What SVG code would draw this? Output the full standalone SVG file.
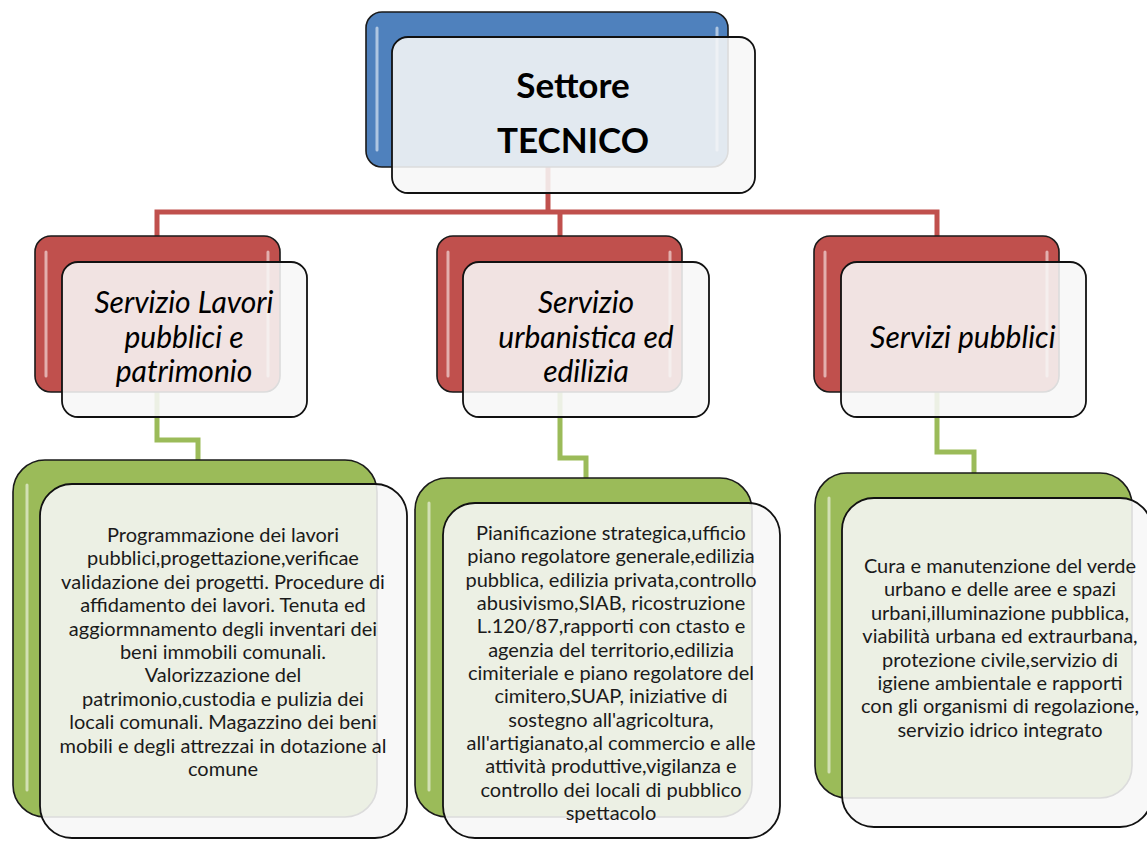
<svg xmlns="http://www.w3.org/2000/svg" width="1147" height="841" viewBox="0 0 1147 841">
<style>
.back{stroke:#1a1a1a;stroke-width:1.6}
.blue{fill:#4F81BD}
.red{fill:#C0504D}
.green{fill:#9BBB59}
.front{fill:#F7F7F7;fill-opacity:0.88;stroke:#111;stroke-width:1.8}
.hl{stroke:#ffffff;stroke-opacity:0.55;stroke-width:3;stroke-linecap:round;fill:none}
.cr{stroke:#C0504D;stroke-width:5;fill:none}
.cg{stroke:#9BBB59;stroke-width:5;fill:none}
.title{font-family:Lato,"Liberation Sans",sans-serif;font-weight:bold;font-size:35px;fill:#000;text-anchor:middle}
.svc{font-family:Lato,"Liberation Sans",sans-serif;font-style:italic;font-size:30px;fill:#000;text-anchor:middle}
.body{font-family:Lato,"Liberation Sans",sans-serif;font-size:20px;fill:#1a1a1a;text-anchor:middle}
</style>
<rect width="1147" height="841" fill="#ffffff"/>
<g id="connectors">
<polyline class="cr" points="548,165 548,212"/>
<polyline class="cr" points="157,237 157,212 937,212 937,237"/>
<polyline class="cr" points="560,212 560,237"/>
<polyline class="cg" points="157,392 157,440 198,440 198,461"/>
<polyline class="cg" points="560,392 560,458 586,458 586,479"/>
<polyline class="cg" points="937,392 937,452 974,452 974,474"/>
</g>
<g id="settore-tecnico">
<rect class="back blue" x="366" y="12" width="362" height="155" rx="16"/>
<line class="hl" x1="377" y1="28" x2="377" y2="150"/>
<line class="hl" x1="717" y1="28" x2="717" y2="150"/>
<rect class="front" x="392" y="37" width="363" height="156" rx="16"/>
<text class="title" x="573" y="98">Settore</text>
<text class="title" x="573" y="153">TECNICO</text>
</g>
<g id="servizio-lavori">
<rect class="back red" x="35" y="236" width="245" height="156" rx="16"/>
<line class="hl" x1="46" y1="252" x2="46" y2="376"/>
<line class="hl" x1="268" y1="252" x2="268" y2="376"/>
<rect class="front" x="62" y="262" width="245" height="155" rx="16"/>
<text class="svc" x="184" y="313">Servizio Lavori</text>
<text class="svc" x="184" y="348">pubblici e</text>
<text class="svc" x="184" y="382">patrimonio</text>
</g>
<g id="servizio-urbanistica">
<rect class="back red" x="437" y="236" width="245" height="156" rx="16"/>
<line class="hl" x1="448" y1="252" x2="448" y2="376"/>
<line class="hl" x1="670" y1="252" x2="670" y2="376"/>
<rect class="front" x="463" y="262" width="246" height="155" rx="16"/>
<text class="svc" x="586" y="313">Servizio</text>
<text class="svc" x="586" y="348">urbanistica ed</text>
<text class="svc" x="586" y="382">edilizia</text>
</g>
<g id="servizi-pubblici">
<rect class="back red" x="814" y="236" width="245" height="156" rx="16"/>
<line class="hl" x1="825" y1="252" x2="825" y2="376"/>
<line class="hl" x1="1047" y1="252" x2="1047" y2="376"/>
<rect class="front" x="841" y="262" width="245" height="155" rx="16"/>
<text class="svc" x="963" y="348">Servizi pubblici</text>
</g>
<g id="desc-lavori">
<rect class="back green" x="13" y="460" width="364" height="357" rx="32"/>
<line class="hl" x1="27" y1="485" x2="27" y2="790"/>
<rect class="front" x="40" y="484" width="367" height="354" rx="32"/>
<text class="body" x="223"><tspan x="223" y="542">Programmazione dei lavori</tspan><tspan x="223" y="565.4">pubblici,progettazione,verificae</tspan><tspan x="223" y="588.8">validazione dei progetti. Procedure di</tspan><tspan x="223" y="612.2">affidamento dei lavori. Tenuta ed</tspan><tspan x="223" y="635.6">aggiormnamento degli inventari dei</tspan><tspan x="223" y="659">beni immobili comunali.</tspan><tspan x="223" y="682.4">Valorizzazione del</tspan><tspan x="223" y="705.8">patrimonio,custodia e pulizia dei</tspan><tspan x="223" y="729.2">locali comunali. Magazzino dei beni</tspan><tspan x="223" y="752.6">mobili e degli attrezzai in dotazione al</tspan><tspan x="223" y="776">comune</tspan></text>
</g>
<g id="desc-urbanistica">
<rect class="back green" x="415" y="478" width="337" height="339" rx="32"/>
<line class="hl" x1="429" y1="503" x2="429" y2="790"/>
<rect class="front" x="443" y="503" width="337" height="335" rx="32"/>
<text class="body" x="611"><tspan x="611" y="540">Pianificazione strategica,ufficio</tspan><tspan x="611" y="563.3">piano regolatore generale,edilizia</tspan><tspan x="611" y="586.6">pubblica, edilizia privata,controllo</tspan><tspan x="611" y="610">abusivismo,SIAB, ricostruzione</tspan><tspan x="611" y="633.3">L.120/87,rapporti con ctasto e</tspan><tspan x="611" y="656.6">agenzia del territorio,edilizia</tspan><tspan x="611" y="680">cimiteriale e piano regolatore del</tspan><tspan x="611" y="703.3">cimitero,SUAP, iniziative di</tspan><tspan x="611" y="726.6">sostegno all'agricoltura,</tspan><tspan x="611" y="750">all'artigianato,al commercio e alle</tspan><tspan x="611" y="773.3">attività produttive,vigilanza e</tspan><tspan x="611" y="796.6">controllo dei locali di pubblico</tspan><tspan x="611" y="820">spettacolo</tspan></text>
</g>
<g id="desc-servizi">
<rect class="back green" x="815" y="473" width="317" height="325" rx="32"/>
<line class="hl" x1="829" y1="498" x2="829" y2="772"/>
<rect class="front" x="842" y="498" width="310" height="329" rx="32"/>
<text class="body" x="1000"><tspan x="1000" y="573">Cura e manutenzione del verde</tspan><tspan x="1000" y="596.4">urbano e delle aree e spazi</tspan><tspan x="1000" y="619.8">urbani,illuminazione pubblica,</tspan><tspan x="1000" y="643.2">viabilità urbana ed extraurbana,</tspan><tspan x="1000" y="666.6">protezione civile,servizio di</tspan><tspan x="1000" y="690">igiene ambientale e rapporti</tspan><tspan x="1000" y="713.4">con gli organismi di regolazione,</tspan><tspan x="1000" y="737">servizio idrico integrato</tspan></text>
</g>
</svg>
